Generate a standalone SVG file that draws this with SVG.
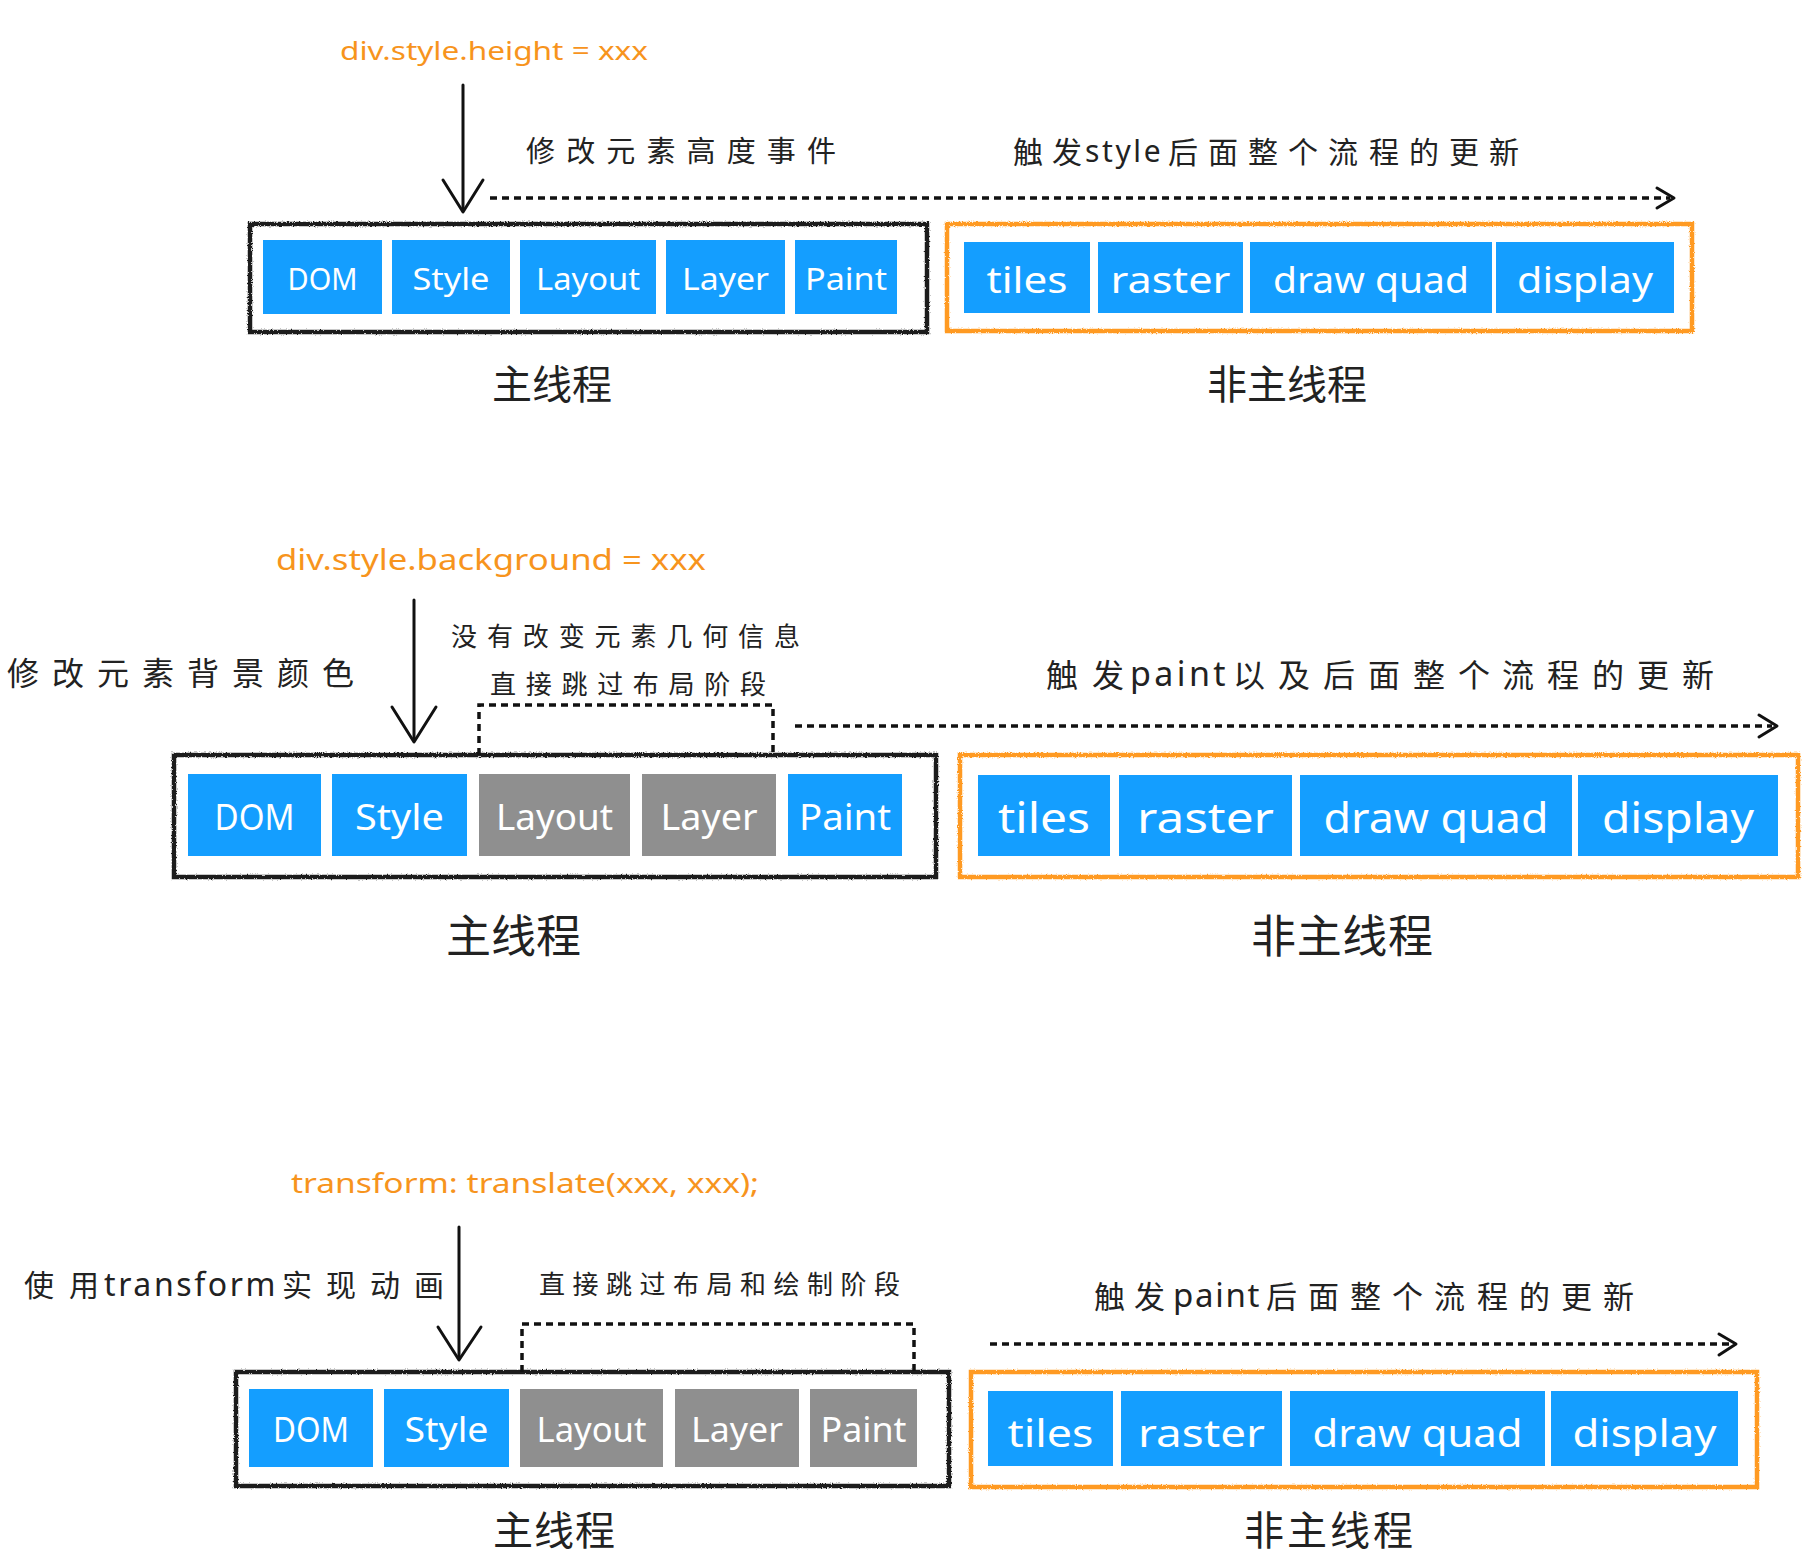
<svg xmlns="http://www.w3.org/2000/svg" width="1816" height="1558" viewBox="0 0 1816 1558">
  <style>
    .frame { fill: none; stroke: #1a1a1a; stroke-width: 4.5; }
    .oframe { fill: none; stroke: #FF9A22; stroke-width: 4.5; }
    .blue { fill: #149EFF; }
    .gray { fill: #8F8F8F; }
    .lbl { font-family: "Noto Sans", "Liberation Sans", sans-serif; fill: #ffffff; text-anchor: middle; }
    .code { font-family: "Noto Sans", "Liberation Sans", sans-serif; fill: #F7941D; }
    .note { font-family: "Noto Sans CJK SC", "Noto Sans", sans-serif; fill: #222222; dominant-baseline: central; }
    .lat { font-family: "Noto Sans", "Noto Sans CJK SC", sans-serif; }
    .title { font-family: "Noto Sans CJK SC", "Noto Sans", sans-serif; fill: #222222; dominant-baseline: central; }
    .dash { fill: none; stroke: #111111; stroke-width: 3.5; stroke-dasharray: 7 5; }
    .line { fill: none; stroke: #111111; stroke-width: 3; stroke-linecap: round; stroke-linejoin: round; }
  </style>
  <defs>
    <filter id="rough" x="-2%" y="-10%" width="104%" height="120%">
      <feTurbulence type="fractalNoise" baseFrequency="0.8" numOctaves="2" seed="3" result="noise"/>
      <feDisplacementMap in="SourceGraphic" in2="noise" scale="3" xChannelSelector="R" yChannelSelector="G"/>
    </filter>
  </defs>
  <rect width="1816" height="1558" fill="#ffffff"/>

  <!-- ========== Section 1: height change ========== -->
  <g id="s1-code">
    <text class="code" x="340" y="60" font-size="26" textLength="308" lengthAdjust="spacingAndGlyphs">div.style.height = xxx</text>
  </g>
  <g id="s1-note">
    <text class="note" x="526" y="149" font-size="29" textLength="310">修改元素高度事件</text>
  </g>
  <g id="s1-note-right">
    <text class="note" y="150" font-size="30"><tspan x="1013 1052">触发</tspan><tspan class="lat" x="1085" letter-spacing="2.6">style</tspan><tspan x="1168 1208 1248 1288 1328 1369 1409 1449 1489">后面整个流程的更新</tspan></text>
  </g>
  <g id="s1-main">
    <rect class="frame" x="250" y="224" width="677" height="108" filter="url(#rough)"/>
    <rect class="blue" x="263" y="240" width="119" height="74"/>
    <text class="lbl" x="322.5" y="290" font-size="31" textLength="70" lengthAdjust="spacingAndGlyphs">DOM</text>
    <rect class="blue" x="392" y="240" width="118" height="74"/>
    <text class="lbl" x="451" y="290" font-size="31" textLength="77" lengthAdjust="spacingAndGlyphs">Style</text>
    <rect class="blue" x="520" y="240" width="136" height="74"/>
    <text class="lbl" x="588" y="290" font-size="31" textLength="104" lengthAdjust="spacingAndGlyphs">Layout</text>
    <rect class="blue" x="666" y="240" width="119" height="74"/>
    <text class="lbl" x="725.5" y="290" font-size="31" textLength="87" lengthAdjust="spacingAndGlyphs">Layer</text>
    <rect class="blue" x="795" y="240" width="102" height="74"/>
    <text class="lbl" x="846" y="290" font-size="31" textLength="82" lengthAdjust="spacingAndGlyphs">Paint</text>
  </g>
  <g id="s1-other">
    <rect class="oframe" x="947" y="224" width="745" height="107" filter="url(#rough)"/>
    <rect class="blue" x="964" y="242" width="126" height="71"/>
    <text class="lbl" x="1027" y="293" font-size="37" textLength="81" lengthAdjust="spacingAndGlyphs">tiles</text>
    <rect class="blue" x="1098" y="242" width="145" height="71"/>
    <text class="lbl" x="1170.5" y="293" font-size="37" textLength="120" lengthAdjust="spacingAndGlyphs">raster</text>
    <rect class="blue" x="1250" y="242" width="242" height="71"/>
    <text class="lbl" x="1371" y="293" font-size="37" textLength="196" lengthAdjust="spacingAndGlyphs">draw quad</text>
    <rect class="blue" x="1496" y="242" width="178" height="71"/>
    <text class="lbl" x="1585" y="293" font-size="37" textLength="136" lengthAdjust="spacingAndGlyphs">display</text>
  </g>
  <g id="s1-main-title">
    <text class="title" x="492" y="382" font-size="40" textLength="120">主线程</text>
  </g>
  <g id="s1-other-title">
    <text class="title" x="1207" y="382" font-size="40" textLength="160">非主线程</text>
  </g>

  <!-- ========== Section 2: background change ========== -->
  <g id="s2-code">
    <text class="code" x="276" y="570" font-size="29" textLength="430" lengthAdjust="spacingAndGlyphs">div.style.background = xxx</text>
  </g>
  <g id="s2-note-left">
    <text class="note" x="7" y="671" font-size="32" textLength="347">修改元素背景颜色</text>
  </g>
  <g id="s2-note-skip">
    <text class="note" x="451" y="634" font-size="26" textLength="349">没有改变元素几何信息</text>
    <text class="note" x="490" y="682" font-size="26" textLength="276">直接跳过布局阶段</text>
  </g>
  <g id="s2-note-right">
    <text class="note" y="673" font-size="32"><tspan x="1046 1092">触发</tspan><tspan class="lat" x="1130" font-size="34" letter-spacing="3.4">paint</tspan><tspan x="1233 1278 1323 1368 1413 1458 1502 1547 1592 1637 1682">以及后面整个流程的更新</tspan></text>
  </g>
  <g id="s2-main">
    <rect class="frame" x="174" y="755" width="762" height="122" filter="url(#rough)"/>
    <rect class="blue" x="188" y="774" width="133" height="82"/>
    <text class="lbl" x="254.5" y="830" font-size="36" textLength="80" lengthAdjust="spacingAndGlyphs">DOM</text>
    <rect class="blue" x="332" y="774" width="135" height="82"/>
    <text class="lbl" x="399.5" y="830" font-size="36" textLength="89" lengthAdjust="spacingAndGlyphs">Style</text>
    <rect class="gray" x="479" y="774" width="151" height="82"/>
    <text class="lbl" x="554.5" y="830" font-size="36" textLength="117" lengthAdjust="spacingAndGlyphs">Layout</text>
    <rect class="gray" x="642" y="774" width="134" height="82"/>
    <text class="lbl" x="709" y="830" font-size="36" textLength="97" lengthAdjust="spacingAndGlyphs">Layer</text>
    <rect class="blue" x="788" y="774" width="114" height="82"/>
    <text class="lbl" x="845" y="830" font-size="36" textLength="92" lengthAdjust="spacingAndGlyphs">Paint</text>
  </g>
  <g id="s2-other">
    <rect class="oframe" x="960" y="755" width="838" height="122" filter="url(#rough)"/>
    <rect class="blue" x="978" y="775" width="132" height="81"/>
    <text class="lbl" x="1044" y="833" font-size="41" textLength="92" lengthAdjust="spacingAndGlyphs">tiles</text>
    <rect class="blue" x="1119" y="775" width="173" height="81"/>
    <text class="lbl" x="1205.5" y="833" font-size="41" textLength="137" lengthAdjust="spacingAndGlyphs">raster</text>
    <rect class="blue" x="1300" y="775" width="272" height="81"/>
    <text class="lbl" x="1436" y="833" font-size="41" textLength="225" lengthAdjust="spacingAndGlyphs">draw quad</text>
    <rect class="blue" x="1578" y="775" width="200" height="81"/>
    <text class="lbl" x="1678" y="833" font-size="41" textLength="152" lengthAdjust="spacingAndGlyphs">display</text>
  </g>
  <g id="s2-main-title">
    <text class="title" x="446" y="933" font-size="45" textLength="135">主线程</text>
  </g>
  <g id="s2-other-title">
    <text class="title" x="1251" y="933" font-size="45" textLength="182">非主线程</text>
  </g>

  <!-- ========== Section 3: transform ========== -->
  <g id="s3-code">
    <text class="code" x="291" y="1193" font-size="28" textLength="468" lengthAdjust="spacingAndGlyphs">transform: translate(xxx, xxx);</text>
  </g>
  <g id="s3-note-left">
    <text class="note" y="1283" font-size="30"><tspan x="24 69">使用</tspan><tspan class="lat" x="104" font-size="32" letter-spacing="2.6">transform</tspan><tspan x="282 326 370 414">实现动画</tspan></text>
  </g>
  <g id="s3-note-skip">
    <text class="note" x="539" y="1282" font-size="26" textLength="361">直接跳过布局和绘制阶段</text>
  </g>
  <g id="s3-note-right">
    <text class="note" y="1294" font-size="31"><tspan x="1094 1134">触发</tspan><tspan class="lat" x="1173" font-size="33" letter-spacing="1.7">paint</tspan><tspan x="1266 1308 1350 1392 1434 1477 1519 1561 1603">后面整个流程的更新</tspan></text>
  </g>
  <g id="s3-main">
    <rect class="frame" x="236" y="1372" width="713" height="114" filter="url(#rough)"/>
    <rect class="blue" x="249" y="1389" width="124" height="78"/>
    <text class="lbl" x="311" y="1442" font-size="34" textLength="76" lengthAdjust="spacingAndGlyphs">DOM</text>
    <rect class="blue" x="384" y="1389" width="125" height="78"/>
    <text class="lbl" x="446.5" y="1442" font-size="34" textLength="84" lengthAdjust="spacingAndGlyphs">Style</text>
    <rect class="gray" x="520" y="1389" width="143" height="78"/>
    <text class="lbl" x="591.5" y="1442" font-size="34" textLength="110" lengthAdjust="spacingAndGlyphs">Layout</text>
    <rect class="gray" x="675" y="1389" width="124" height="78"/>
    <text class="lbl" x="737" y="1442" font-size="34" textLength="92" lengthAdjust="spacingAndGlyphs">Layer</text>
    <rect class="gray" x="810" y="1389" width="107" height="78"/>
    <text class="lbl" x="863.5" y="1442" font-size="34" textLength="86" lengthAdjust="spacingAndGlyphs">Paint</text>
  </g>
  <g id="s3-other">
    <rect class="oframe" x="971" y="1372" width="786" height="115" filter="url(#rough)"/>
    <rect class="blue" x="988" y="1391" width="125" height="75"/>
    <text class="lbl" x="1050.5" y="1447" font-size="38" textLength="86" lengthAdjust="spacingAndGlyphs">tiles</text>
    <rect class="blue" x="1121" y="1391" width="161" height="75"/>
    <text class="lbl" x="1201.5" y="1447" font-size="38" textLength="127" lengthAdjust="spacingAndGlyphs">raster</text>
    <rect class="blue" x="1290" y="1391" width="255" height="75"/>
    <text class="lbl" x="1417.5" y="1447" font-size="38" textLength="210" lengthAdjust="spacingAndGlyphs">draw quad</text>
    <rect class="blue" x="1551" y="1391" width="187" height="75"/>
    <text class="lbl" x="1644.5" y="1447" font-size="38" textLength="144" lengthAdjust="spacingAndGlyphs">display</text>
  </g>
  <g id="s3-main-title">
    <text class="title" x="493" y="1528" font-size="40" textLength="122">主线程</text>
  </g>
  <g id="s3-other-title">
    <text class="title" x="1244" y="1528" font-size="40" textLength="169">非主线程</text>
  </g>

  <!-- ========== Connectors ========== -->
  <g id="connectors">
    <!-- section 1 -->
    <path class="line" d="M463,85 V210"/>
    <path class="line" d="M443,180 L463,212 L483,180"/>
    <path class="dash" d="M490,198 H1670"/>
    <path class="line" d="M1657,188 L1674,198 L1657,208"/>
    <!-- section 2 -->
    <path class="line" d="M414,600 V740"/>
    <path class="line" d="M392,707 L414,742 L436,707"/>
    <path class="dash" d="M479,755 V705 H773 V757"/>
    <path class="dash" d="M795,726 H1772"/>
    <path class="line" d="M1759,715 L1777,726 L1759,737"/>
    <!-- section 3 -->
    <path class="line" d="M459,1227 V1358"/>
    <path class="line" d="M438,1327 L459,1360 L481,1327"/>
    <path class="dash" d="M522,1372 V1324 H914 V1372"/>
    <path class="dash" d="M990,1344 H1731"/>
    <path class="line" d="M1719,1334 L1736,1344 L1719,1355"/>
  </g>
</svg>
